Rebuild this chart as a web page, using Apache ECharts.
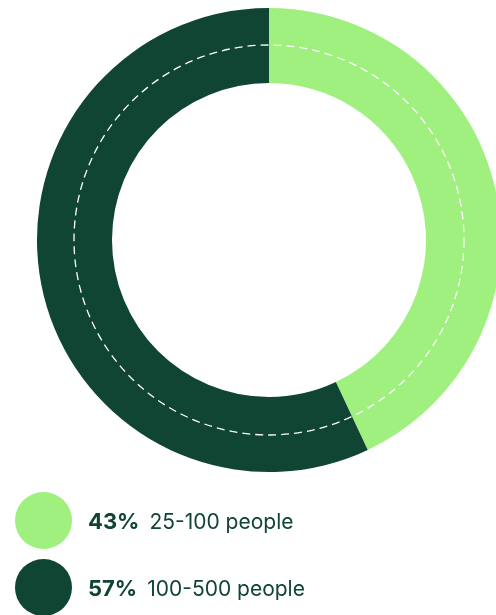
<!DOCTYPE html>
<html>
<head>
<meta charset="utf-8">
<style>
  html, body { margin: 0; padding: 0; background: #ffffff; }
  #chart { width: 496px; height: 615px; }
</style>
<script src="https://cdn.jsdelivr.net/npm/echarts@6/dist/echarts.min.js"></script>
</head>
<body>
<div id="chart"></div>
<script>
// Team-size breakdown
const categories = ['25-100 people', '100-500 people'];
const shares = [43, 57];
const colors = ['#a0f07f', '#0f4532'];

const chart = echarts.init(document.getElementById('chart'), null, { renderer: 'canvas' });

const data = categories.map((name, i) => ({
  name: name,
  value: shares[i],
  itemStyle: { color: colors[i] }
}));

const total = shares.reduce((a, b) => a + b, 0);

// one legend block per category, stacked under the ring
const legendTops = [492, 559];
const legends = categories.map((name, i) => ({
  orient: 'vertical',
  left: 15,
  top: legendTops[i],
  padding: 0,
  icon: 'circle',
  itemWidth: 57,
  itemHeight: 57,
  selectedMode: false,
  data: [name],
  formatter: function (n) {
    const k = categories.indexOf(n);
    const pct = Math.round(shares[k] / total * 100);
    return '{p|' + pct + '%}{n|' + n + '}';
  },
  textStyle: {
    rich: {
      p: {
        fontFamily: 'Inter',
        fontWeight: 'bold',
        fontSize: 22,
        color: '#0f4532',
        padding: [4, 10, 0, 11]
      },
      n: {
        fontFamily: 'Inter',
        fontSize: 21,
        color: '#0f4532',
        padding: [4, 0, 0, 0]
      }
    }
  }
}));

chart.setOption({
  animation: false,
  backgroundColor: '#ffffff',
  legend: legends,
  graphic: [{
    type: 'circle',
    silent: true,
    z: 10,
    shape: { cx: 269, cy: 240, r: 195 },
    style: {
      fill: 'none',
      stroke: '#ffffff',
      lineWidth: 1.3,
      lineDash: [8, 5]
    }
  }],
  series: [{
    type: 'pie',
    center: [269, 240],
    radius: [157, 232],
    startAngle: 90,
    clockwise: true,
    silent: true,
    label: { show: false },
    labelLine: { show: false },
    itemStyle: { borderWidth: 0 },
    data: data
  }]
});
</script>
</body>
</html>
